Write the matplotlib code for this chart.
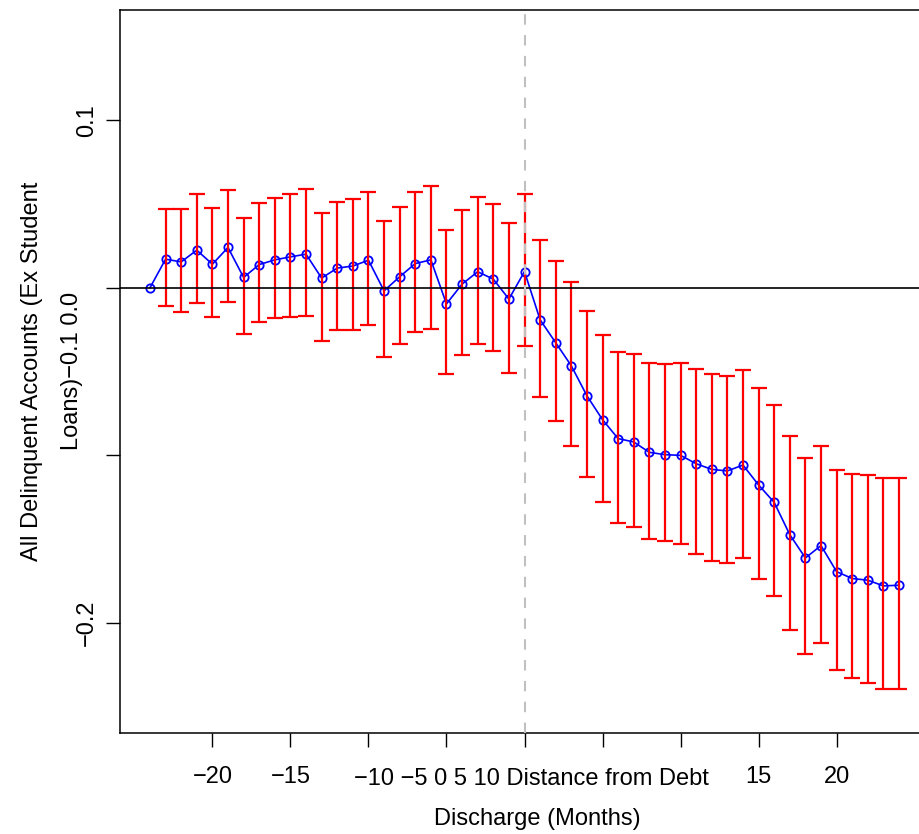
import matplotlib.pyplot as plt
import numpy as np

plt.rcParams['font.family'] = ['Liberation Sans', 'DejaVu Sans']

# months relative to debt discharge
months = np.arange(-24, 25)

# point estimates (month -24 is the omitted reference period)
estimate = [0.0, 0.0171, 0.0155, 0.0225, 0.0141, 0.0241, 0.0062, 0.0139, 0.0167,
            0.0185, 0.0201, 0.0058, 0.0118, 0.0130, 0.0165, -0.0018, 0.0066,
            0.0145, 0.0167, -0.0096, 0.0022, 0.0096, 0.0052, -0.0067, 0.0097,
            -0.0191, -0.0328, -0.0466, -0.0645, -0.0788, -0.0901, -0.0921,
            -0.0983, -0.0997, -0.1001, -0.1051, -0.1085, -0.1094, -0.1059,
            -0.1178, -0.1282, -0.1475, -0.1614, -0.1540, -0.1696, -0.1737,
            -0.1747, -0.1781, -0.1777]

# 95% confidence bounds
ci_high = [np.nan, 0.0472, 0.0472, 0.0561, 0.0479, 0.0585, 0.0416, 0.0509, 0.0535,
           0.0563, 0.0591, 0.0450, 0.0512, 0.0533, 0.0575, 0.0398, 0.0484,
           0.0575, 0.0607, 0.0346, 0.0467, 0.0545, 0.0503, 0.0390, 0.0561,
           0.0287, 0.0161, 0.0032, -0.0141, -0.0279, -0.0382, -0.0396,
           -0.0448, -0.0456, -0.0452, -0.0488, -0.0517, -0.0527, -0.0490,
           -0.0597, -0.0700, -0.0888, -0.1015, -0.0943, -0.1087, -0.1115,
           -0.1116, -0.1138, -0.1134]
ci_low = [np.nan, -0.0111, -0.0145, -0.0090, -0.0175, -0.0086, -0.0273, -0.0207,
          -0.0181, -0.0173, -0.0169, -0.0315, -0.0253, -0.0253, -0.0225,
          -0.0412, -0.0336, -0.0265, -0.0249, -0.0513, -0.0404, -0.0334,
          -0.0380, -0.0506, -0.0346, -0.0655, -0.0798, -0.0943, -0.1128,
          -0.1278, -0.1403, -0.1427, -0.1499, -0.1512, -0.1530, -0.1592,
          -0.1632, -0.1642, -0.1612, -0.1737, -0.1839, -0.2042, -0.2189,
          -0.2124, -0.2285, -0.2334, -0.2360, -0.2400, -0.2398]

xticks = [-20, -15, -10, -5, 0, 5, 10, 15, 20]
xticklabels = ['\u221220', '\u221215', '', '', '', '', '', '15', '20']
yticks = [-0.2, -0.1, 0.0, 0.1]
yticklabels = ['\u22120.2', '', '', '0.1']

W, H = 919, 834
fig = plt.figure(figsize=(W / 100, H / 100), dpi=100)
left, right, top, bottom = 120, 929, 10, 733
ax = fig.add_axes([left / W, 1 - bottom / H, (right - left) / W, (bottom - top) / H])

est = np.array(estimate)
hi = np.array(ci_high)
lo = np.array(ci_low)

ax.plot(months, est, color='blue', lw=1.2, marker='o', ms=6,
        mfc='none', mec='blue', mew=1.3, zorder=2)
ax.errorbar(months, est, yerr=[est - lo, hi - est], fmt='none',
            ecolor='red', elinewidth=1.6, capsize=5.5, capthick=1.6, zorder=3)
ax.axhline(0, color='black', lw=1.2, zorder=4)
ax.axvline(0, color='#c0c0c0', lw=1.5, ls=(0, (5, 5)), zorder=4)

ax.set_xlim(-25.92, 25.92)
ax.set_ylim(-0.266, 0.166)
ax.set_xticks(xticks)
ax.set_xticklabels(xticklabels)
ax.set_yticks(yticks)
ax.set_yticklabels(yticklabels, rotation=90, va='center')
ax.tick_params(axis='both', length=10, width=1, labelsize=17, color='black')
ax.tick_params(axis='x', pad=14)
ax.tick_params(axis='y', pad=6)
for s in ax.spines.values():
    s.set_linewidth(1.1)

# axis titles, two lines each
fig.text(531 / W, 1 - 779 / H, '\u221210 \u22125 0 5 10 Distance from Debt',
         fontsize=17, ha='center', va='center')
fig.text(537 / W, 1 - 819 / H, 'Discharge (Months)',
         fontsize=17, ha='center', va='center')
fig.text(32 / W, 1 - 371 / H, 'All Delinquent Accounts (Ex Student',
         fontsize=17, ha='center', va='center', rotation=90)
fig.text(72 / W, 1 - 371 / H, 'Loans)\u22120.1 0.0',
         fontsize=17, ha='center', va='center', rotation=90)

fig.savefig('out.png', dpi=100)
